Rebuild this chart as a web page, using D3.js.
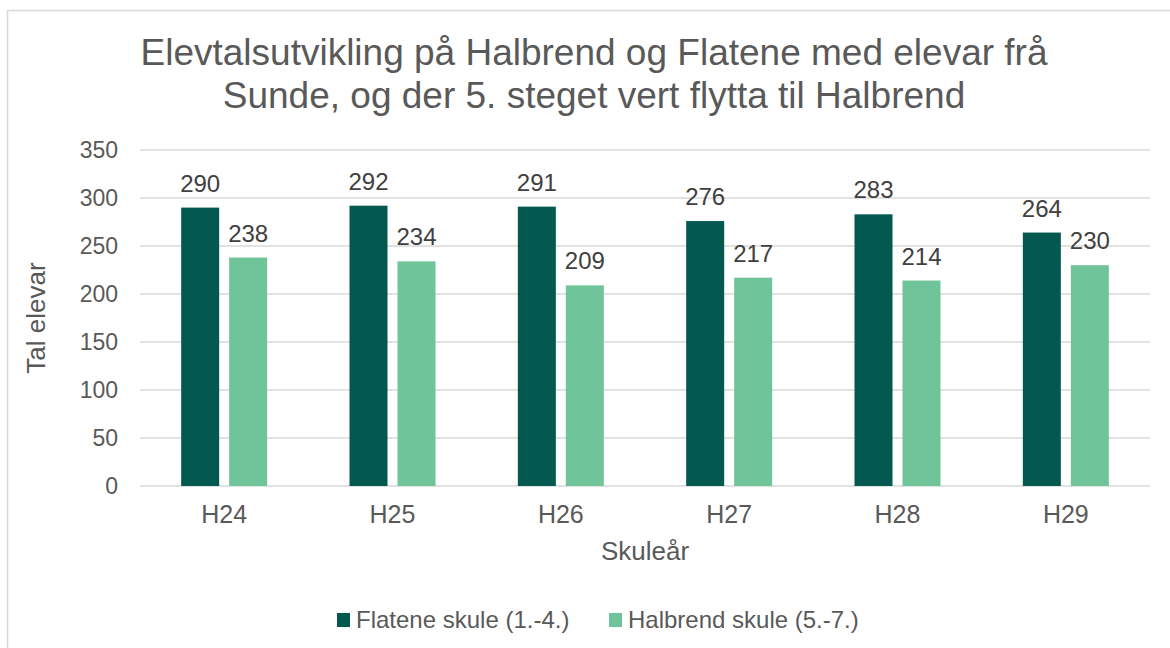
<!DOCTYPE html>
<html>
<head>
<meta charset="utf-8">
<script src="https://cdn.jsdelivr.net/npm/d3@7"></script>
<style>
  html, body { margin: 0; padding: 0; background: #fff; }
  svg { display: block; font-family: "Liberation Sans", Arial, sans-serif; }
</style>
</head>
<body>
<div id="chart"></div>
<script>
(function () {
  "use strict";

  // categories and series
  const YEARS = ["H24", "H25", "H26", "H27", "H28", "H29"];
  const SERIES = ["Flatene skule (1.-4.)", "Halbrend skule (5.-7.)"];
  const FLATENE = [290, 292, 291, 276, 283, 264];
  const HALBREND = [238, 234, 209, 217, 214, 230];
  const Y_TICKS = [0, 50, 100, 150, 200, 250, 300, 350];
  const TITLE = [
    "Elevtalsutvikling på Halbrend og Flatene med elevar frå",
    "Sunde, og der 5. steget vert flytta til Halbrend"
  ];

  const colors = ["#03594f", "#6fc49a"];
  const width = 1170;
  const height = 648;
  // plot area
  const left = 140;
  const right = 1150;
  const top = 150;
  const bottom = 486;
  const fontFam = "Liberation Sans, Arial, sans-serif";

  const svg = d3.select("#chart")
    .append("svg")
    .attr("width", width)
    .attr("height", height);

  // outer border of the chart box
  svg.append("rect")
    .attr("x", 7.5).attr("y", 10.5)
    .attr("width", width).attr("height", height)
    .attr("fill", "none")
    .attr("stroke", "#d9d9d9")
    .attr("stroke-width", 1.5);

  // title
  svg.append("g").selectAll("text")
    .data(TITLE)
    .join("text")
    .attr("x", 594)
    .attr("y", (d, i) => 65 + i * 43)
    .attr("text-anchor", "middle")
    .attr("font-size", 37)
    .attr("fill", "#595959")
    .text((d) => d);

  const x = d3.scaleBand().domain(YEARS).range([left, right]);
  const y = d3.scaleLinear().domain([0, 350]).range([bottom, top]);

  // gridlines
  svg.append("g").selectAll("line")
    .data(Y_TICKS)
    .join("line")
    .attr("x1", left).attr("x2", right)
    .attr("y1", (d) => y(d)).attr("y2", (d) => y(d))
    .attr("stroke", "#d9d9d9")
    .attr("stroke-width", 1.5);

  // y axis labels
  const yAxis = svg.append("g")
    .attr("transform", `translate(${left - 22},0)`)
    .call(d3.axisLeft(y).tickValues(Y_TICKS).tickSize(0).tickPadding(0));
  yAxis.select(".domain").remove();
  yAxis.attr("font-size", null).attr("font-family", null);
  yAxis.selectAll("text")
    .attr("font-size", 23)
    .attr("font-family", fontFam)
    .attr("fill", "#595959");

  // x axis labels
  const xAxis = svg.append("g")
    .attr("transform", `translate(0,${bottom})`)
    .call(d3.axisBottom(x).tickSize(0).tickPadding(19));
  xAxis.select(".domain").remove();
  xAxis.attr("font-size", null).attr("font-family", null);
  xAxis.selectAll("text")
    .attr("font-size", 25)
    .attr("font-family", fontFam)
    .attr("fill", "#595959");

  // axis titles
  svg.append("text")
    .attr("x", left + (right - left) / 2)
    .attr("y", 560)
    .attr("text-anchor", "middle")
    .attr("font-size", 26)
    .attr("fill", "#595959")
    .text("Skuleår");
  svg.append("text")
    .attr("transform", `translate(45,${(top + bottom) / 2}) rotate(-90)`)
    .attr("text-anchor", "middle")
    .attr("font-size", 26)
    .attr("fill", "#595959")
    .text("Tal elevar");

  // bars
  const inner = d3.scaleBand().domain([0, 1])
    .range([x.bandwidth() / 2 - 43, x.bandwidth() / 2 + 43])
    .paddingInner(0.208);
  const rows = [];
  YEARS.forEach((yr, i) => {
    rows.push({ yr, s: 0, v: FLATENE[i] });
    rows.push({ yr, s: 1, v: HALBREND[i] });
  });

  svg.append("g").selectAll("rect")
    .data(rows)
    .join("rect")
    .attr("x", (d) => x(d.yr) + inner(d.s))
    .attr("y", (d) => y(d.v))
    .attr("width", inner.bandwidth())
    .attr("height", (d) => y(0) - y(d.v))
    .attr("fill", (d) => colors[d.s]);

  // data labels
  svg.append("g").selectAll("text")
    .data(rows)
    .join("text")
    .attr("x", (d) => x(d.yr) + inner(d.s) + inner.bandwidth() / 2)
    .attr("y", (d) => y(d.v) - 16)
    .attr("text-anchor", "middle")
    .attr("font-size", 24)
    .attr("fill", "#404040")
    .text((d) => d.v);

  // legend
  const legendX = [337, 609];
  const legend = svg.append("g").selectAll("g")
    .data(SERIES)
    .join("g")
    .attr("transform", (d, i) => `translate(${legendX[i]},613)`);
  legend.append("rect")
    .attr("width", 13).attr("height", 14)
    .attr("fill", (d, i) => colors[i]);
  legend.append("text")
    .attr("x", 19)
    .attr("y", 15)
    .attr("font-size", 24)
    .attr("fill", "#595959")
    .text((d) => d);
})();
</script>
</body>
</html>
